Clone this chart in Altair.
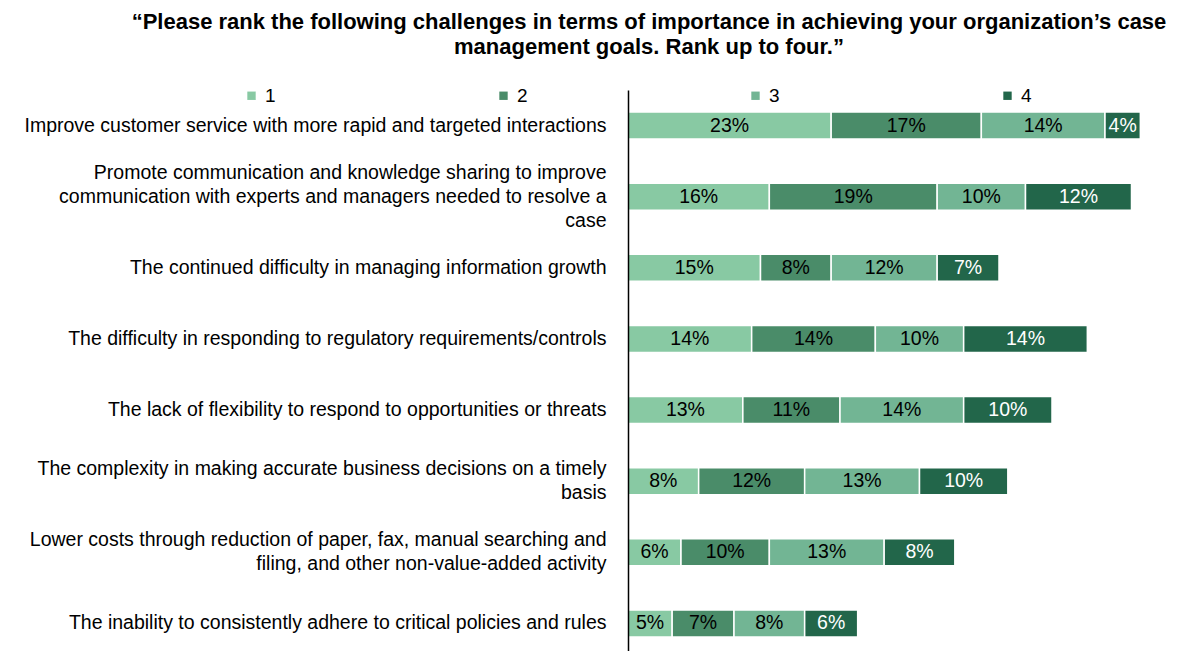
import altair as alt
import pandas as pd

categories = [
    "Improve customer service with more rapid and targeted interactions",
    "Promote communication and knowledge sharing to improve|communication with experts and managers needed to resolve a|case",
    "The continued difficulty in managing information growth",
    "The difficulty in responding to regulatory requirements/controls",
    "The lack of flexibility to respond to opportunities or threats",
    "The complexity in making accurate business decisions on a timely|basis",
    "Lower costs through reduction of paper, fax, manual searching and|filing, and other non-value-added activity",
    "The inability to consistently adhere to critical policies and rules",
]
rank1 = [23, 16, 15, 14, 13, 8, 6, 5]
rank2 = [17, 19, 8, 14, 11, 12, 10, 7]
rank3 = [14, 10, 12, 10, 14, 13, 13, 8]
rank4 = [4, 12, 7, 14, 10, 10, 8, 6]
ranks = ["1", "2", "3", "4"]
colors = ["#88C9A3", "#4A8C69", "#72B594", "#22664A"]

rows = []
for i, c in enumerate(categories):
    for r, vals in zip(ranks, [rank1, rank2, rank3, rank4]):
        rows.append({"cat": c, "rank": r, "value": vals[i], "ord": int(r)})
df = pd.DataFrame(rows)

FONT = "Liberation Sans"

label_offset = {
    "condition": [
        {"test": "length(split(datum.value, '|')) == 3", "value": -24},
        {"test": "length(split(datum.value, '|')) == 2", "value": -12},
    ],
    "value": 0,
}

base = alt.Chart(df).encode(
    y=alt.Y("cat:N", sort=categories, title=None,
            scale=alt.Scale(paddingInner=0.62, paddingOuter=0.31),
            axis=alt.Axis(labelExpr="split(datum.label, '|')", labelFont=FONT,
                          labelFontSize=19.5, labelColor="#000000", labelLimit=700,
                          labelPadding=22, ticks=False, domainColor="#000000",
                          domainWidth=1.5, labelLineHeight=24, zindex=1,
                          labelOffset=label_offset)),
    x=alt.X("value:Q", stack="zero", scale=alt.Scale(domain=[0, 60]), axis=None),
    order=alt.Order("ord:Q"),
)

bars = base.mark_bar(stroke="white", strokeWidth=1.5).encode(
    color=alt.Color("rank:N", scale=alt.Scale(domain=ranks, range=colors),
                    legend=alt.Legend(title=None, orient="none", direction="horizontal",
                                      legendX=-386, legendY=-4, symbolType="square",
                                      symbolSize=70, symbolStrokeWidth=0,
                                      labelFont=FONT, labelFontSize=19,
                                      labelColor="#000000", columnPadding=218, labelOffset=4)),
)

text = base.mark_text(font=FONT, fontSize=19.5).encode(
    x=alt.X("mid:Q"),
    text=alt.Text("label:N"),
    color=alt.condition("datum.rank == '4'", alt.value("#ffffff"), alt.value("#000000")),
).transform_stack(
    stack="value", groupby=["cat"], as_=["v0", "v1"], sort=[alt.SortField("ord")]
).transform_calculate(
    mid="(datum.v0 + datum.v1) / 2", label="datum.value + '%'"
)

chart = alt.layer(bars, text).properties(
    width=530, height=569,
    autosize=alt.AutoSizeParams(type="none"),
    padding={"left": 620, "top": 82, "right": 16, "bottom": 0},
    title=alt.TitleParams(
        ["\u201cPlease rank the following challenges in terms of importance in achieving your organization\u2019s case",
         "management goals. Rank up to four.\u201d"],
        font=FONT, fontSize=22, fontWeight="bold", color="#000000",
        anchor="middle", dx=-244, offset=27, lineHeight=25,
    ),
).configure_view(stroke=None)

chart.save("out.html", embed_options={"renderer": "svg", "actions": False})
